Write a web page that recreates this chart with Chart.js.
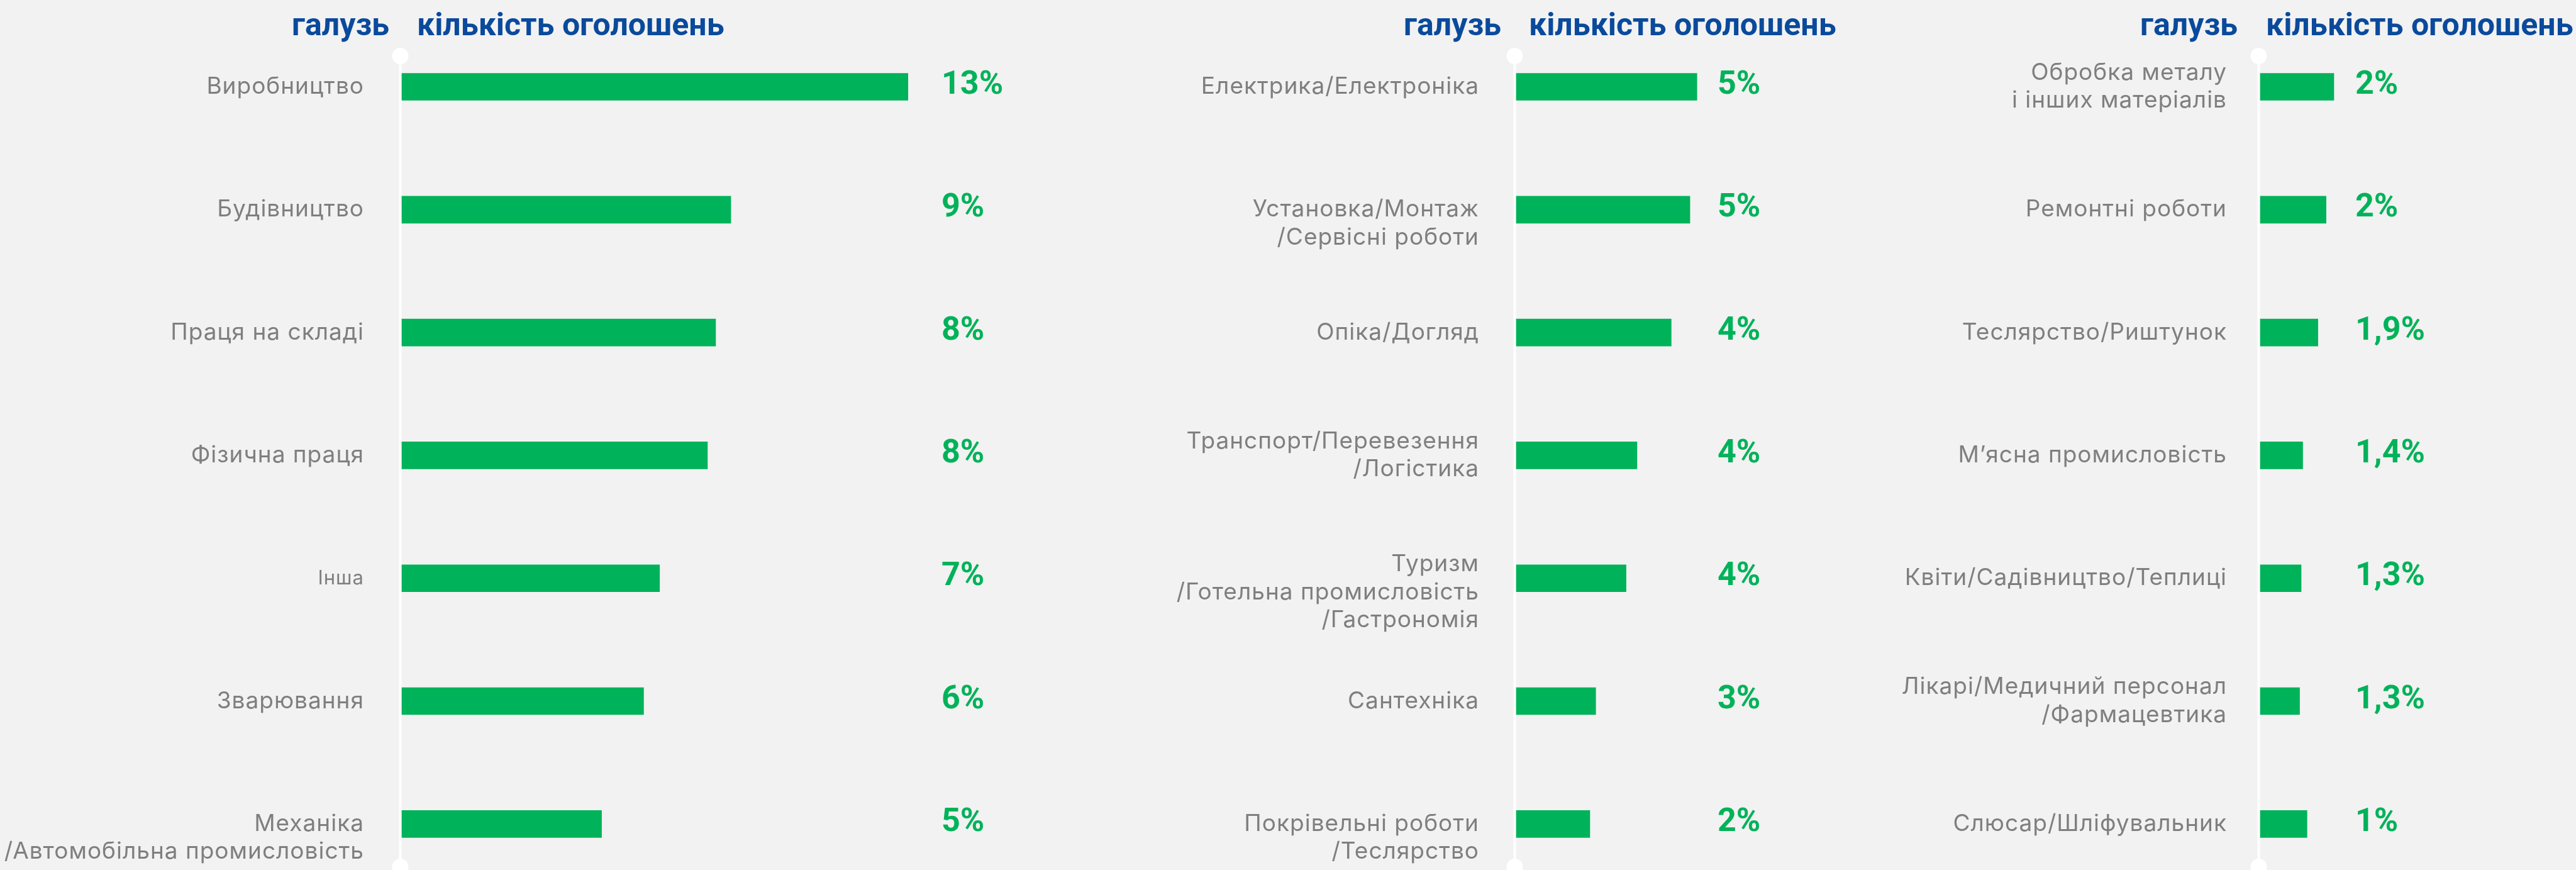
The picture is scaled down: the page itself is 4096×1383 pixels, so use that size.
<!DOCTYPE html>
<html lang="uk">
<head>
<meta charset="utf-8">
<script src="https://cdn.jsdelivr.net/npm/chart.js@4.4.1/dist/chart.umd.min.js"></script>
<style>
  html, body { margin: 0; padding: 0; background: #f2f2f2; width: 4096px; height: 1383px; overflow: hidden; }
  canvas { position: absolute; top: 0; }
</style>
</head>
<body>
<canvas id="c1"></canvas>
<canvas id="c2"></canvas>
<canvas id="c3"></canvas>
<script>
// column headers
const headerIndustry = "галузь";
const headerCount = "кількість оголошень";

// panel 1
const industries1 = ["Виробництво", "Будівництво", "Праця на складі", "Фізична праця", "Інша", "Зварювання",
  ["", "Механіка", "/Автомобільна промисловість"]];
const bars1 = [13.0, 8.45, 8.06, 7.85, 6.62, 6.21, 5.13];
const shares1 = ["13%", "9%", "8%", "8%", "7%", "6%", "5%"];

// panel 2
const industries2 = ["Електрика/Електроніка", ["", "Установка/Монтаж", "/Сервісні роботи"], "Опіка/Догляд",
  ["Транспорт/Перевезення", "/Логістика"], ["", "Туризм", "/Готельна промисловість", "/Гастрономія"],
  "Сантехніка", ["", "Покрівельні роботи", "/Теслярство"]];
const bars2 = [4.64, 4.46, 3.98, 3.10, 2.82, 2.04, 1.89];
const shares2 = ["5%", "5%", "4%", "4%", "4%", "3%", "2%"];

// panel 3
const industries3 = [["Обробка металу", "і інших матеріалів"], "Ремонтні роботи", "Теслярство/Риштунок",
  "М’ясна промисловість", "Квіти/Садівництво/Теплиці", ["Лікарі/Медичний персонал", "/Фармацевтика"],
  "Слюсар/Шліфувальник"];
const bars3 = [1.89, 1.69, 1.48, 1.09, 1.05, 1.01, 1.20];
const shares3 = ["2%", "2%", "1,9%", "1,4%", "1,3%", "1,3%", "1%"];

const GREEN = "#00b259";
const GRAY = "#7f7f7f";
const BLUE = "#0a4a9c";
const PX_PER_PCT = 61.9;
const CANVAS_H = 1420;
const AREA_TOP = 40.35;
const AREA_BOTTOM = 1407.5;

const panels = [
  { id: "c1", left: 0, width: 1700, axisWidth: 639, labelPad: 60, headL: 20, headR: 24, valueX: 858,
    labels: industries1, data: bars1, shares: shares1 },
  { id: "c2", left: 1700, width: 1250, axisWidth: 711, labelPad: 59, headL: 24, headR: 20, valueX: 320,
    labels: industries2, data: bars2, shares: shares2 },
  { id: "c3", left: 2950, width: 1146, axisWidth: 644, labelPad: 53, headL: 36, headR: 9, valueX: 151,
    labels: industries3, data: bars3, shares: shares3 }
];

function makeChart(p) {
  const canvas = document.getElementById(p.id);
  canvas.width = p.width;
  canvas.height = CANVAS_H;
  canvas.style.left = p.left + "px";
  canvas.style.width = p.width + "px";
  canvas.style.height = CANVAS_H + "px";

  const decor = {
    id: "panelDecor",
    beforeDraw(chart) {
      // a little tracking for the category labels (the original face is wider)
      chart.ctx.letterSpacing = "1px";
    },
    beforeDatasetsDraw(chart) {
      const ctx = chart.ctx;
      const x = chart.chartArea.left - 2.5;
      ctx.save();
      ctx.strokeStyle = "#ffffff";
      ctx.fillStyle = "#ffffff";
      ctx.lineWidth = 4;
      ctx.beginPath();
      ctx.moveTo(x, 89);
      ctx.lineTo(x, 1378);
      ctx.stroke();
      [89, 1378].forEach((y) => {
        ctx.beginPath();
        ctx.arc(x, y, 13, 0, Math.PI * 2);
        ctx.fill();
      });
      ctx.restore();
    },
    afterDatasetsDraw(chart) {
      const ctx = chart.ctx;
      const left = chart.chartArea.left;
      const meta = chart.getDatasetMeta(0);
      ctx.save();
      ctx.letterSpacing = "0px";
      ctx.font = "700 52px Roboto";
      ctx.fillStyle = GREEN;
      ctx.textAlign = "left";
      ctx.textBaseline = "alphabetic";
      meta.data.forEach((bar, i) => {
        ctx.fillText(p.shares[i], left + p.valueX, bar.y + 11);
      });
      ctx.font = "700 50px Roboto";
      ctx.fillStyle = BLUE;
      ctx.textAlign = "right";
      ctx.fillText(headerIndustry, left - p.headL, 56);
      ctx.textAlign = "left";
      ctx.fillText(headerCount, left + p.headR, 56);
      ctx.restore();
    }
  };

  return new Chart(canvas, {
    type: "bar",
    data: {
      labels: p.labels,
      datasets: [{
        data: p.data,
        backgroundColor: GREEN,
        barThickness: 43,
        clip: false
      }]
    },
    options: {
      indexAxis: "y",
      responsive: false,
      animation: false,
      layout: { padding: { top: AREA_TOP, bottom: CANVAS_H - AREA_BOTTOM, left: 0, right: 0 } },
      plugins: {
        legend: { display: false },
        tooltip: { enabled: false }
      },
      scales: {
        x: { display: false, min: 0, max: (p.width - p.axisWidth) / PX_PER_PCT },
        y: {
          grid: { display: false, drawTicks: false },
          border: { display: false },
          ticks: {
            autoSkip: false,
            padding: p.labelPad,
            color: GRAY,
            font: (c) => ({
              family: "Inter",
              size: c.tick && c.tick.label === "Інша" ? 31 : 37,
              lineHeight: 1.2
            })
          },
          afterFit: (scale) => {
            scale.width = p.axisWidth;
            scale.paddingTop = 0;
            scale.paddingBottom = 0;
          }
        }
      }
    },
    plugins: [decor]
  });
}

panels.forEach(makeChart);
</script>
</body>
</html>
